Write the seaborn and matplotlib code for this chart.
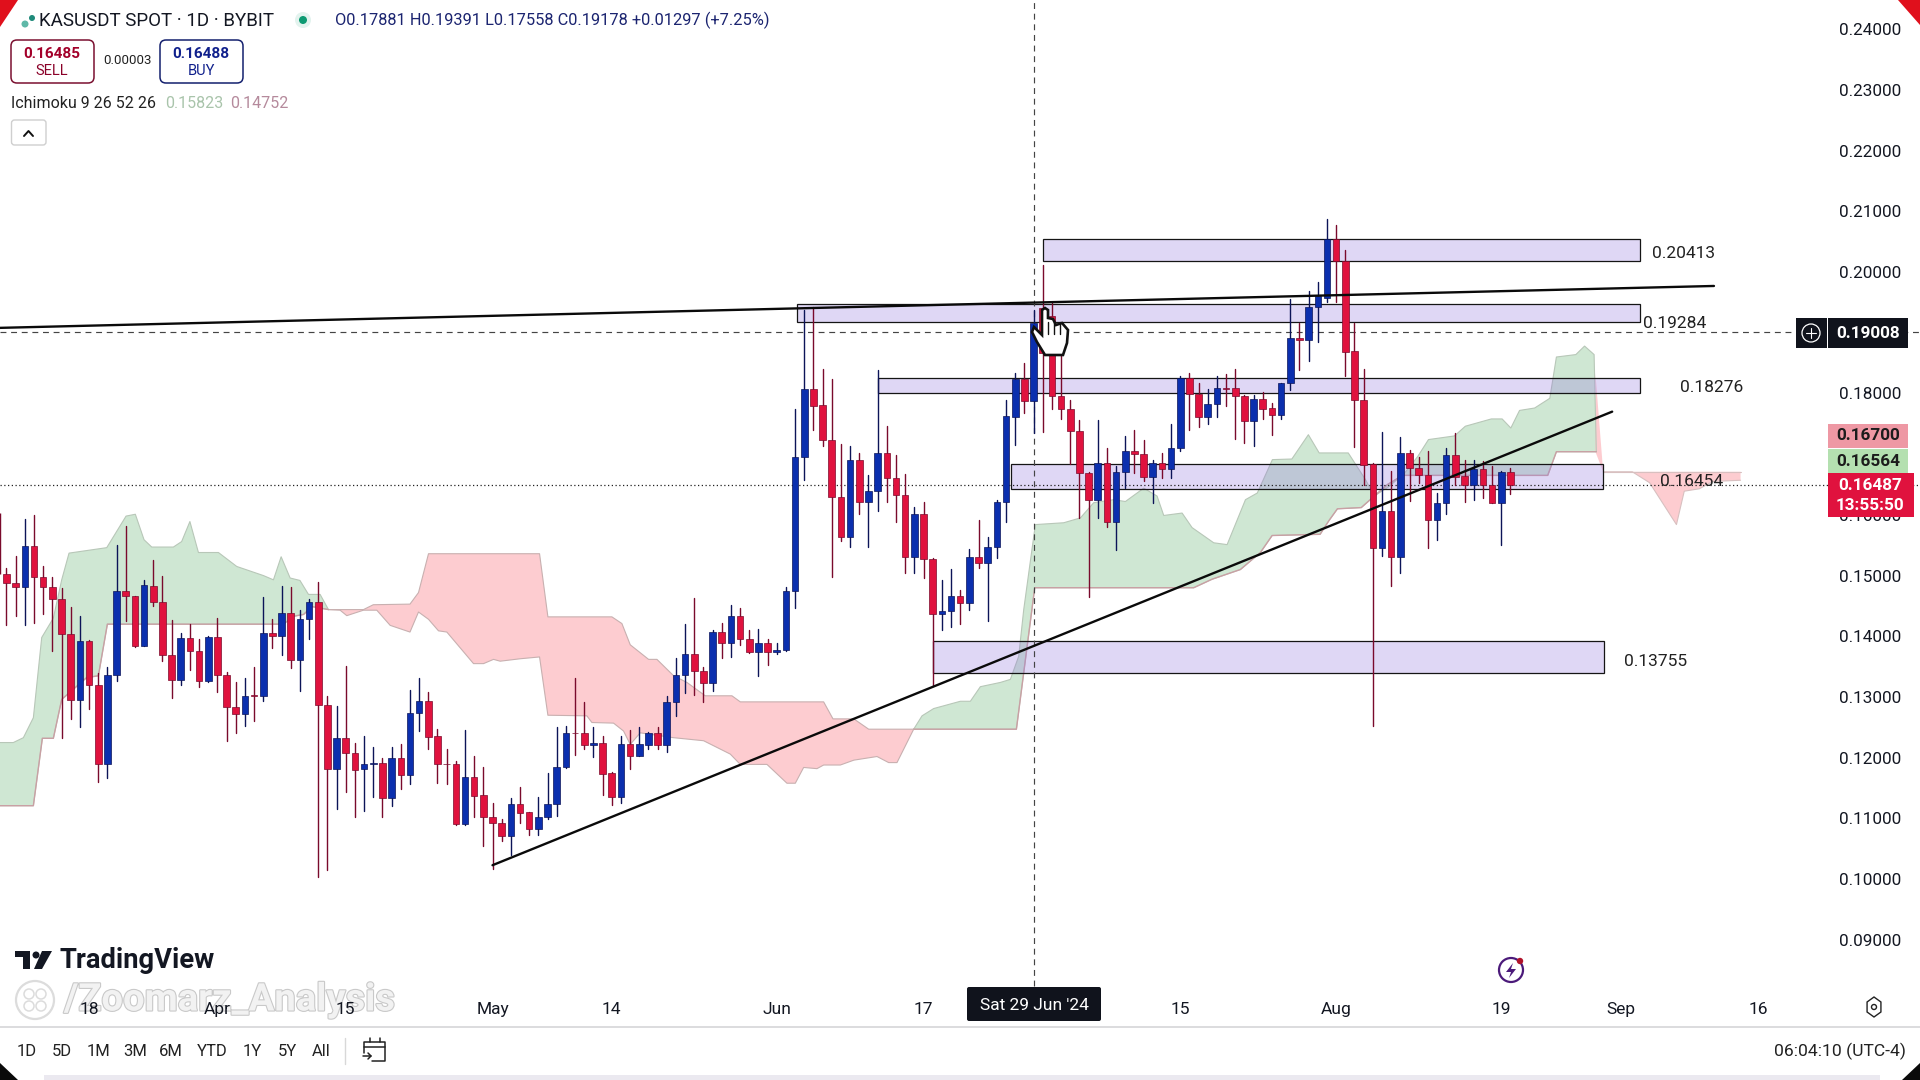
import numpy as np
import pandas as pd
import matplotlib
matplotlib.use("Agg")
import matplotlib.pyplot as plt
import matplotlib.patheffects as pe
from matplotlib.patches import Rectangle, FancyBboxPatch, Polygon, Circle
import seaborn as sns

START = pd.Timestamp("2024-03-09")

opens = [.1502,.1488,.1481,.1549,.1498,.1481,.1462,.1404,.1295,.1393,
 .1320,.1190,.1336,.1475,.1467,.1384,.1483,.1457,.1370,.1328,
 .1398,.1376,.1326,.1399,.1337,.1284,.1272,.1303,.1302,.1406,
 .1400,.1439,.1361,.1429,.1457,.1287,.1182,.1233,.1208,.1181,
 .1189,.1192,.1134,.1199,.1172,.1274,.1294,.1235,.1190,.1190,
 .1091,.1169,.1138,.1103,.1093,.1071,.1123,.1110,.1083,.1103,
 .1123,.1184,.1241,.1241,.1221,.1225,.1175,.1136,.1222,.1203,
 .1221,.1241,.1221,.1292,.1337,.1371,.1343,.1323,.1407,.1389,
 .1434,.1395,.1374,.1389,.1374,.1377,.1475,.1695,.1807,.1781,
 .1723,.1630,.1563,.1690,.1621,.1639,.1702,.1661,.1633,.1530,
 .1602,.1528,.1436,.1441,.1467,.1455,.1531,.1521,.1547,.1621,
 .1762,.1823,.1787,.1940,.1927,.1796,.1774,.1738,.1669,.1624,
 .1686,.1589,.1670,.1705,.1700,.1662,.1686,.1676,.1710,.1825,
 .1799,.1762,.1783,.1809,.1809,.1795,.1754,.1791,.1776,.1764,
 .1817,.1891,.1888,.1942,.1958,.2054,.2018,.1870,.1789,.1683,
 .1546,.1607,.1530,.1702,.1677,.1665,.1591,.1620,.1699,.1664,
 .1650,.1675,.1650,.1620,.1671]
closes = [.1488,.1481,.1549,.1497,.1481,.1462,.1404,.1295,.1393,.1320,
 .1190,.1337,.1475,.1466,.1384,.1484,.1456,.1369,.1328,.1398,
 .1376,.1326,.1399,.1336,.1284,.1272,.1302,.1302,.1406,.1400,
 .1439,.1361,.1429,.1457,.1287,.1182,.1233,.1208,.1180,.1189,
 .1192,.1134,.1199,.1172,.1274,.1294,.1234,.1190,.1189,.1091,
 .1169,.1137,.1103,.1093,.1071,.1123,.1109,.1083,.1103,.1123,
 .1184,.1241,.1240,.1221,.1224,.1173,.1136,.1222,.1203,.1222,
 .1241,.1221,.1292,.1337,.1371,.1343,.1323,.1407,.1389,.1434,
 .1395,.1374,.1389,.1374,.1378,.1475,.1695,.1807,.1780,.1723,
 .1630,.1563,.1690,.1621,.1639,.1702,.1660,.1632,.1530,.1602,
 .1527,.1436,.1442,.1467,.1455,.1531,.1521,.1547,.1621,.1763,
 .1823,.1787,.1916,.1866,.1795,.1774,.1738,.1669,.1624,.1686,
 .1589,.1671,.1705,.1700,.1662,.1686,.1676,.1710,.1825,.1799,
 .1762,.1783,.1809,.1808,.1795,.1754,.1791,.1775,.1764,.1817,
 .1891,.1888,.1942,.1961,.2054,.2018,.1869,.1789,.1682,.1546,
 .1607,.1530,.1702,.1677,.1665,.1591,.1620,.1699,.1662,.1650,
 .1675,.1650,.1620,.1671,.1649]
highs = [.1513,.1532,.1594,.1599,.1516,.1498,.1480,.1449,.1434,.1394,
 .1340,.1350,.1551,.1581,.1467,.1493,.1525,.1499,.1427,.1406,
 .1421,.1395,.1400,.1430,.1341,.1325,.1331,.1349,.1464,.1428,
 .1483,.1481,.1444,.1462,.1490,.1302,.1286,.1351,.1224,.1235,
 .1217,.1199,.1218,.1222,.1311,.1331,.1308,.1248,.1214,.1195,
 .1245,.1203,.1184,.1125,.1099,.1133,.1152,.1111,.1135,.1175,
 .1250,.1253,.1332,.1292,.1250,.1235,.1176,.1235,.1246,.1250,
 .1242,.1251,.1302,.1364,.1421,.1463,.1350,.1411,.1422,.1451,
 .1447,.1411,.1412,.1396,.1389,.1481,.1774,.1938,.1942,.1840,
 .1824,.1716,.1713,.1702,.1665,.1839,.1746,.1698,.1667,.1613,
 .1622,.1529,.1493,.1511,.1476,.1543,.1592,.1563,.1624,.1790,
 .1834,.1850,.1938,.2012,.1949,.1864,.1790,.1757,.1670,.1757,
 .1710,.1681,.1730,.1739,.1723,.1690,.1702,.1750,.1829,.1833,
 .1817,.1807,.1829,.1832,.1840,.1798,.1798,.1803,.1784,.1817,
 .1955,.1916,.1969,.1984,.2088,.2077,.2037,.1916,.1840,.1686,
 .1736,.1673,.1728,.1707,.1695,.1705,.1636,.1710,.1735,.1691,
 .1691,.1688,.1680,.1672,.1677]
lows = [.1418,.1434,.1418,.1422,.1436,.1376,.1232,.1264,.1250,.1281,
 .1160,.1166,.1326,.1425,.1382,.1384,.1450,.1359,.1299,.1320,
 .1345,.1316,.1325,.1309,.1227,.1241,.1252,.1261,.1294,.1380,
 .1370,.1348,.1310,.1396,.1003,.1015,.1116,.1144,.1102,.1112,
 .1136,.1102,.1121,.1149,.1156,.1244,.1214,.1159,.1156,.1089,
 .1089,.1102,.1054,.1016,.1063,.1039,.1092,.1073,.1073,.1099,
 .1104,.1183,.1204,.1214,.1202,.1138,.1122,.1125,.1181,.1203,
 .1214,.1215,.1210,.1269,.1306,.1303,.1291,.1310,.1365,.1366,
 .1385,.1372,.1334,.1352,.1371,.1376,.1446,.1657,.1740,.1713,
 .1497,.1557,.1547,.1601,.1547,.1606,.1622,.1588,.1504,.1504,
 .1496,.1318,.1410,.1415,.1420,.1443,.1512,.1426,.1529,.1588,
 .1715,.1767,.1735,.1736,.1774,.1758,.1684,.1595,.1464,.1595,
 .1580,.1542,.1644,.1669,.1655,.1620,.1660,.1661,.1706,.1740,
 .1744,.1750,.1761,.1779,.1725,.1719,.1714,.1758,.1732,.1758,
 .1806,.1838,.1853,.1884,.1951,.1951,.1828,.1712,.1650,.1252,
 .1532,.1483,.1505,.1623,.1653,.1545,.1558,.1601,.1650,.1621,
 .1625,.1628,.1620,.1550,.1635]
# wick of the candle cut off by the left edge
edge_wick_high = .1603
edge_wick_low = .1502

# Ichimoku cloud outlines: day index from 9 Mar 2024, price
green1_top_days = [-.71,.74,1.84,2.93,3.84,5.11,6.02,6.82,10.93,13.04,14.05,15.0,15.84,18.2,19.1,20.0,20.93,23.11,25.11,28.02,29.11,29.95,30.93,32.0,32.93,34.2,35.11]
green1_top = [.1225,.1225,.1233,.1266,.1398,.1430,.1493,.1537,.1546,.1598,.1601,.1559,.1547,.1547,.1556,.1589,.1538,.1538,.1515,.1500,.1493,.1531,.1496,.1492,.1469,.1469,.1444]
green1_low_days = [-.71,2.93,3.91,5.11,6.02,8.74,10.02,11.0,30.2,31.3,32.4,33.3,35.11]
green1_low = [.1121,.1121,.1232,.1232,.1296,.1332,.1335,.1420,.1420,.1433,.1436,.1449,.1444]
red1_top_days = [35.11,38.93,40.0,44.0,44.93,46.02,58.13,59.04,66.02,67.11,68.02,70.02,70.93,72.75,74.2,76.2,79.11,80.02,89.11,90.13,92.4,94.02,98.93]
red1_top = [.1444,.1444,.1452,.1453,.1472,.1536,.1536,.1432,.1432,.1421,.1386,.1362,.1362,.1335,.1324,.1302,.1302,.1292,.1292,.1264,.1264,.1247,.1247]
red1_low_days = [35.11,36.38,37.11,38.93,40.38,41.84,44.0,44.93,46.02,47.11,48.02,50.93,52.02,53.11,53.84,56.02,58.13,59.04,63.29,63.84,66.2,67.29,68.02,69.11,72.75,76.02,78.93,80.02,82.93,85.11,86.02,86.93,88.38,89.11,90.93,92.4,94.93,96.2,97.11,98.93]
red1_low = [.1444,.1443,.1434,.1443,.1443,.1418,.1407,.1440,.1428,.1409,.1407,.1355,.1355,.1362,.1359,.1363,.1366,.1270,.1269,.1258,.1257,.1244,.1222,.1241,.1233,.1228,.1206,.1189,.1189,.1158,.1158,.1184,.1182,.1188,.1188,.1196,.1202,.1192,.1192,.1247]
green2_top_days = [98.93,99.84,101.11,104.02,105.11,106.2,108.38,109.47,110.38,110.93,112.2,115.29,117.11,118.56,120.74,122.02,124.02,125.47,126.2,128.2,129.29,131.65,133.11,135.11,136.4,138.05,140.17,141.97,143.15,146.32,148.2,149.16,150.8,152.47,153.89,155.07,157.9,159.09,161.92,163.1,164.05,165.0,166.65,168.3,169.02,171.14,172.09,173.13,173.37]
green2_top = [.1247,.1269,.1281,.1293,.1293,.1317,.1324,.1329,.1367,.1444,.1584,.1587,.1595,.1620,.1625,.1622,.1644,.1631,.1599,.1603,.1579,.1554,.1551,.1625,.1636,.1691,.1692,.1732,.1702,.1702,.1658,.1631,.1647,.1669,.1696,.1724,.1730,.1746,.1758,.1758,.1743,.1772,.1776,.1792,.1860,.1864,.1878,.1864,.1704]
green2_low_days = [98.93,110.13,112.13,127.65,129.47,131.47,134.56,136.74,138.02,143.25,144.19,145.14,147.74,149.16,150.6,152.23,164.76,168.07,169.02,173.04,173.37]
green2_low = [.1247,.1247,.1480,.1480,.1480,.1494,.1510,.1538,.1566,.1568,.1590,.1610,.1612,.1631,.1650,.1665,.1665,.1665,.1704,.1704,.1704]
red2_days = [173.27,174.12,173.27]
red2_prices = [.1833,.1671,.1704]
red3_top_days = [174.12,189.1]
red3_top = [.1671,.1671]
red3_low_days = [174.12,177.29,179.18,182.11,182.96,184.62,186.04,189.1]
red3_low = [.1671,.1671,.1653,.1584,.1639,.1643,.1655,.1657]

# zones: start day, end day, low, high, label
zone_starts = [113.0,86.2,95.0,109.5,101.0]
zone_ends = [178.1,178.1,178.1,174.1,174.2]
zone_lows = [.2018,.1917,.1801,.1642,.1339]
zone_highs = [.2054,.1947,.1825,.1684,.1393]
zone_labels = ["0.20413","0.19284","0.18276","0.16454","0.13755"]
zone_label_px = [(1652,253),(1643,323),(1680,388),(1660,481),(1624,662)]

trend_days = [53.0,175.1]
trend_prices = [.1023,.1770]
res_days = [-.71,186.2]
res_prices = [.1908,.1977]

y_ticks = [.09,.10,.11,.12,.13,.14,.15,.16,.17,.18,.19,.20,.21,.22,.23,.24]
y_hide = [.17,.19]
tick_dates = ["2024-03-18","2024-04-01","2024-04-15","2024-05-01","2024-05-14","2024-06-01","2024-06-17","2024-07-15","2024-08-01","2024-08-19","2024-09-01","2024-09-16"]
tick_labels = ["18","Apr","15","May","14","Jun","17","15","Aug","19","Sep","16"]
range_labels = ["1D","5D","1M","3M","6M","YTD","1Y","5Y","All"]
range_px = [27,62,98,135,171,212,252,287,321]

RED = "#e0123e"; BLUE = "#0b2fae"; RED_W = "#7a0a2c"; BLUE_W = "#0c1458"
GREEN_F = "#cfe7d3"; PINK_F = "#fdccd0"
TXT = "#131722"
PER_PX = .0001647

sns.set_theme(style="white")
plt.rcParams["font.family"] = ["Roboto", "DejaVu Sans"]

fig = plt.figure(figsize=(19.2,10.8), dpi=100, facecolor="white")
ax = fig.add_axes([0,53/1080,1,1027/1080])
ax.set_facecolor("white")
ax.set_axisbelow(False)

n = len(opens)
days = np.arange(n)
o, h, l, c = map(np.array, (opens, highs, lows, closes))
up = c > o

# Cloud
def cloud(td, tp, ld, lp, color, edge):
    xs = list(td)+list(ld)[::-1]; ys = list(tp)+list(lp)[::-1]
    ax.fill(xs, ys, color=color, lw=0, zorder=1)
    ax.plot(td, tp, color=edge, lw=.8, zorder=1.1)
    ax.plot(ld, lp, color=edge, lw=.8, zorder=1.1)
cloud(green1_top_days, green1_top, green1_low_days, green1_low, GREEN_F, "#b8c7b8")
ax.plot(green1_low_days, green1_low, color="#c9a0a4", lw=1, zorder=1.2)
cloud(red1_top_days, red1_top, red1_low_days, red1_low, PINK_F, "#c8b0b0")
cloud(green2_top_days, green2_top, green2_low_days, green2_low, GREEN_F, "#b8c7b8")
ax.plot(green2_low_days, green2_low, color="#c9a0a4", lw=1, zorder=1.2)
ax.fill(red2_days, red2_prices, color=PINK_F, lw=0, zorder=1)
cloud(red3_top_days, red3_top, red3_low_days, red3_low, PINK_F, "#d8c0c0")

# Zones
for s, e, lo, hi in zip(zone_starts, zone_ends, zone_lows, zone_highs):
    ax.add_patch(Rectangle((s, lo), e-s, hi-lo, facecolor=(152/255,125/255,222/255,.3), edgecolor="#151515", lw=.9, zorder=2))

# Crosshair & last price
ax.axvline(112, ymin=(1027-986)/1027, color="#444444", lw=.85, ls=(0,(5,4)), zorder=2.2)
ax.axhline(.19008, color="#444444", lw=.85, ls=(0,(5,4)), zorder=2.2)
ax.axhline(.16487, color="#222222", lw=.9, ls=(0,(1,2)), zorder=2.2)

# Wicks
wick = pd.DataFrame({"day": np.r_[days, days], "price": np.r_[h, l],
                     "id": np.r_[days, days], "dir": np.r_[up, up]})
sns.lineplot(data=wick, x="day", y="price", units="id", estimator=None, hue="dir",
             palette={True: BLUE_W, False: RED_W}, lw=1.0, legend=False, ax=ax, zorder=3)
ax.vlines(-.66, edge_wick_low, edge_wick_high, color=RED_W, lw=1.0, zorder=3)
# Bodies
ax.bar(days, np.maximum(np.abs(c-o), .00012), bottom=np.minimum(o, c), width=.72,
       color=[BLUE if u else RED for u in up],
       edgecolor=[BLUE_W if u else RED_W for u in up], lw=.5, zorder=4)

# Trend lines
sns.lineplot(x=trend_days, y=trend_prices, color="#0a0a0a", lw=1.7, ax=ax, zorder=5, estimator=None)
sns.lineplot(x=res_days, y=res_prices, color="#0a0a0a", lw=1.7, ax=ax, zorder=5, estimator=None)

x_l = (0-6.5)/9.17; x_r = (1920-6.5)/9.17
ax.set_xlim(x_l, x_r)
ax.set_ylim(.2-(1027-272)*PER_PX, .2+272*PER_PX)
ax.set_xlabel(""); ax.set_ylabel("")
for s in ("top","left","right"):
    ax.spines[s].set_visible(False)
ax.spines["bottom"].set_color("#d6d6d8"); ax.spines["bottom"].set_linewidth(1.2)

ax.yaxis.tick_right()
shown = [t for t in y_ticks if t not in y_hide]
ax.set_yticks(shown)
ax.set_yticklabels([f"{t:.5f}" for t in shown], fontsize=12.3, color=TXT)
ax.tick_params(axis="y", length=0, pad=-58)
ax.set_xticks([(pd.Timestamp(d)-START).days for d in tick_dates])
ax.set_xticklabels(tick_labels, fontsize=12.5, color=TXT)
ax.tick_params(axis="x", length=0, pad=-18)

# UI overlay in screen pixels
ui = fig.add_axes([0,0,1,1], zorder=10)
ui.set_xlim(0,1920); ui.set_ylim(1080,0); ui.axis("off"); ui.patch.set_alpha(0)

def T(x, y, s, size=12, color=TXT, ha="left", va="center", weight="normal", **k):
    ui.text(x, y, s, fontsize=size, color=color, ha=ha, va=va, fontweight=weight, **k)
def box(x0, y0, x1, y1, fc="white", ec="none", lw=1, r=0, z=1):
    if r:
        ui.add_patch(FancyBboxPatch((x0+r,y0+r), x1-x0-2*r, y1-y0-2*r, boxstyle=f"round,pad={r},rounding_size={r}", fc=fc, ec=ec, lw=lw, zorder=z))
    else:
        ui.add_patch(Rectangle((x0,y0), x1-x0, y1-y0, fc=fc, ec=ec, lw=lw, zorder=z))

# Watermark lies under the date labels
ax.text(64, 1000, "/Zoomarz_Analysis", transform=ui.transData, fontsize=27.5, fontweight="bold",
        color="#f2f2f2", va="center", ha="left", zorder=1, clip_on=False,
        path_effects=[pe.withStroke(linewidth=1.6, foreground="#c9c9c9")])

# Zone labels
for lab, (px, py) in zip(zone_labels, zone_label_px):
    T(px, py, lab, 12.5, "#222222")

# Header
ui.add_patch(Circle((25,24), 3.5, fc="#5fb8a8", ec="none"))
ui.add_patch(Circle((32,18), 3, fc="#1f8a7a", ec="none"))
T(39, 21, "KASUSDT SPOT · 1D · BYBIT", 13.5, "#131722")
ui.add_patch(Circle((303,20), 8, fc="#e3f3ee", ec="none"))
ui.add_patch(Circle((303,20), 4, fc="#0d9a72", ec="none"))
T(335, 20, "O0.17881 H0.19391 L0.17558 C0.19178 +0.01297 (+7.25%)", 11.8, "#1b2470")
box(11,40,94,83, ec="#7a1030", lw=1.1, r=6)
box(160,40,243,83, ec="#14206e", lw=1.1, r=6)
T(52,54,"0.16485",11,"#a3002a",ha="center",weight="bold")
T(52,71,"SELL",10.5,"#8a0028",ha="center")
T(201,54,"0.16488",11,"#10208c",ha="center",weight="bold")
T(201,71,"BUY",10.5,"#10208c",ha="center")
T(127,61,"0.00003",9.5,"#222222",ha="center")
T(11,103,"Ichimoku 9 26 52 26",11.5,"#222222")
T(165,103,"0.15823",11.5,"#a9c4ab")
T(230,103,"0.14752",11.5,"#b58a9c")
box(11.5,120,46,145, ec="#cfcfcf", lw=1, r=3)
ui.plot([24,28.5,33],[136,131,136], color="#111111", lw=1.4)

# Price badges
box(1796,318,1827,348, fc="#10131c")
ui.add_patch(Circle((1811,333), 9, fc="none", ec="white", lw=.9, zorder=2))
ui.plot([1806,1816],[333,333],color="white",lw=.8,zorder=2); ui.plot([1811,1811],[328,338],color="white",lw=.8,zorder=2)
box(1828,318,1908,348, fc="#10131c")
T(1868,333,"0.19008",12.3,"white",ha="center",weight="bold",zorder=3)
box(1828,424,1908,448, fc="#ee98a4")
T(1868,436,"0.16700",12.3,"#1c1c1c",ha="center",weight="bold",zorder=3)
box(1828,449,1908,473, fc="#b4e0b0")
T(1868,461,"0.16564",12.3,"#1c1c1c",ha="center",weight="bold",zorder=3)
box(1828,473,1914,517, fc="#e0123e")
T(1870,485,"0.16487",12.3,"white",ha="center",weight="bold",zorder=3)
T(1870,505,"13:55:50",12.3,"white",ha="center",weight="bold",zorder=3)

# Crosshair date label
box(967,987,1101,1021, fc="#10131c", r=2)
T(1034,1005,"Sat 29 Jun '24",12.5,"white",ha="center",zorder=3)

# Hand cursor
hand = [(1045,308),(1048,310),(1048,318),(1053,319),(1056,325),(1062,323),(1068,330),(1067,343),(1063,355),(1045,355),(1037,342),(1032,332),(1034,327),(1042,335),(1042,310)]
ui.add_patch(Polygon(hand, closed=True, fc="white", ec="#111111", lw=1.9, zorder=3))
for xx in (1048,1054,1060):
    ui.plot([xx,xx],[322,334],color="#111111",lw=1,zorder=4)

# Bottom bar
T(60,961,"TradingView",19.7,"#131722",weight="bold")
ui.add_patch(Polygon([(15,951),(30,951),(30,969),(23,969),(23,957),(15,957)], closed=True, fc="#131722", ec="none"))
ui.add_patch(Circle((36,955), 3.5, fc="#131722", ec="none"))
ui.add_patch(Polygon([(42,951),(52,951),(42,969),(34,969)], closed=True, fc="#131722", ec="none"))
ui.add_patch(Circle((35,1000), 19, fc="none", ec="#dcdcdc", lw=1.6))
for cx, cy in ((29,994),(41,994),(29,1006),(41,1006)):
    ui.add_patch(Circle((cx,cy), 5, fc="none", ec="#dcdcdc", lw=1.1))

for lab, px in zip(range_labels, range_px):
    T(px,1051,lab,12,"#222222",ha="center")
ui.plot([345,345],[1038,1064],color="#d8d8d8",lw=1)
ui.plot([364,364,385,385,372],[1053,1042,1042,1061,1061],color="#222222",lw=1.1)
ui.plot([364,385],[1047,1047],color="#222222",lw=1.1)
ui.plot([370,370],[1038,1042],color="#222222",lw=1.1); ui.plot([380,380],[1038,1042],color="#222222",lw=1.1)
ui.plot([363,371],[1056,1056],color="#222222",lw=1.1)
ui.plot([368,371,368],[1053,1056,1059],color="#222222",lw=1.1)
T(1906,1051,"06:04:10 (UTC-4)",12.6,"#222222",ha="right")
# Flash icon
ui.add_patch(Circle((1511,970), 12, fc="none", ec="#4b1a7a", lw=1.6))
ui.add_patch(Polygon([(1513,963),(1506,972),(1511,972),(1509,978),(1516,969),(1511,969)], closed=True, fc="#4b1a7a", ec="none"))
ui.add_patch(Circle((1520,961), 3.2, fc="#b0122a", ec="none"))
# Settings icon
hx = [(1874+8*np.sin(a), 1007+10*np.cos(a)) for a in np.arange(6)*np.pi/3]
ui.add_patch(Polygon(hx, closed=True, fc="none", ec="#222222", lw=1))
ui.add_patch(Circle((1874,1007), 2.5, fc="none", ec="#222222", lw=1))

# Frame corners and bottom strip
ui.add_patch(Polygon([(0,0),(18,0),(0,27)], closed=True, fc="#e0101c", ec="none"))
ui.add_patch(Polygon([(1920,0),(1898,0),(1920,25)], closed=True, fc="#e0101c", ec="none"))
ui.add_patch(Polygon([(0,1063),(18,1080),(0,1080)], closed=True, fc="#0a0a0a", ec="none"))
ui.add_patch(Polygon([(1920,1063),(1902,1080),(1920,1080)], closed=True, fc="#0a0a0a", ec="none"))
box(44,1075,1880,1080, fc="#ebe9f0")

fig.savefig("out.png", dpi=100, facecolor="white")
